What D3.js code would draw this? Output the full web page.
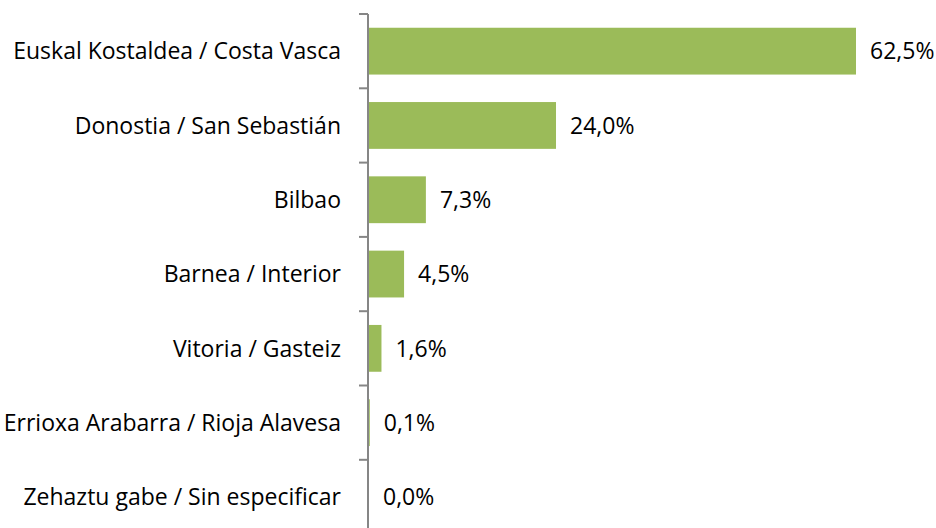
<!DOCTYPE html>
<html>
<head>
<meta charset="utf-8">
<script src="https://cdn.jsdelivr.net/npm/d3@7"></script>
<style>
  body { margin: 0; background: #fff; }
  text { font-family: "Open Sans", Lato, sans-serif; fill: #000; }
</style>
</head>
<body>
<div class="vis-barchart"></div>
<script>
const categories = [
    "Euskal Kostaldea / Costa Vasca",
    "Donostia / San Sebastián",
    "Bilbao",
    "Barnea / Interior",
    "Vitoria / Gasteiz",
    "Errioxa Arabarra / Rioja Alavesa",
    "Zehaztu gabe / Sin especificar"
];
const values = [62.5, 24.0, 7.3, 4.5, 1.6, 0.1, 0.0];

const W = 936, H = 528;
const margin = { top: 14, left: 368 };
const bandStep = 74.3;
const height = bandStep * categories.length;

const svg = d3.select(".vis-barchart")
    .append("svg")
    .attr("width", W)
    .attr("height", H)
    .append("g")
    .attr("transform", "translate(" + margin.left + "," + margin.top + ")");

// Y channel
let y = d3.scaleBand()
    .domain(categories)
    .range([0, height])
    .paddingInner(0.37)
    .paddingOuter(0.185);

// X channel
let x = d3.scaleLinear()
    .domain([0, 62.5])
    .range([0, 487]);

const fmt = v => v.toFixed(1).replace(".", ",") + "%";

// Bars
svg.selectAll(".bar")
    .data(values)
    .enter()
    .append("rect")
    .attr("class", "bar")
    .attr("x", 1)
    .attr("y", (d, i) => y(categories[i]))
    .attr("width", d => x(d))
    .attr("height", y.bandwidth())
    .attr("fill", "#9BBB59");

// Value labels
svg.selectAll(".val")
    .data(values)
    .enter()
    .append("text")
    .attr("class", "val")
    .attr("x", d => x(d) + 15)
    .attr("y", (d, i) => y(categories[i]) + y.bandwidth() / 2)
    .attr("dy", "0.36em")
    .style("font-size", "23px")
    .text(d => fmt(d));

// Axis
const axis = svg.append("g")
    .call(d3.axisLeft(y).tickSize(0).tickPadding(27));
axis.select(".domain").remove();
axis.selectAll("text")
    .attr("dy", "0.36em")
    .style("font-size", "23px")
    .style("font-family", "'Open Sans', Lato, sans-serif");

// Axis line and band ticks
svg.append("line")
    .attr("x1", 0).attr("x2", 0)
    .attr("y1", 0).attr("y2", H)
    .attr("stroke", "#868686")
    .attr("stroke-width", 2);

const ticks = d3.range(categories.length + 1).map(i => i * y.step());
svg.selectAll(".tk")
    .data(ticks)
    .enter()
    .append("line")
    .attr("class", "tk")
    .attr("x1", -9).attr("x2", 0)
    .attr("y1", d => d).attr("y2", d => d)
    .attr("stroke", "#868686")
    .attr("stroke-width", 2);
</script>
</body>
</html>
